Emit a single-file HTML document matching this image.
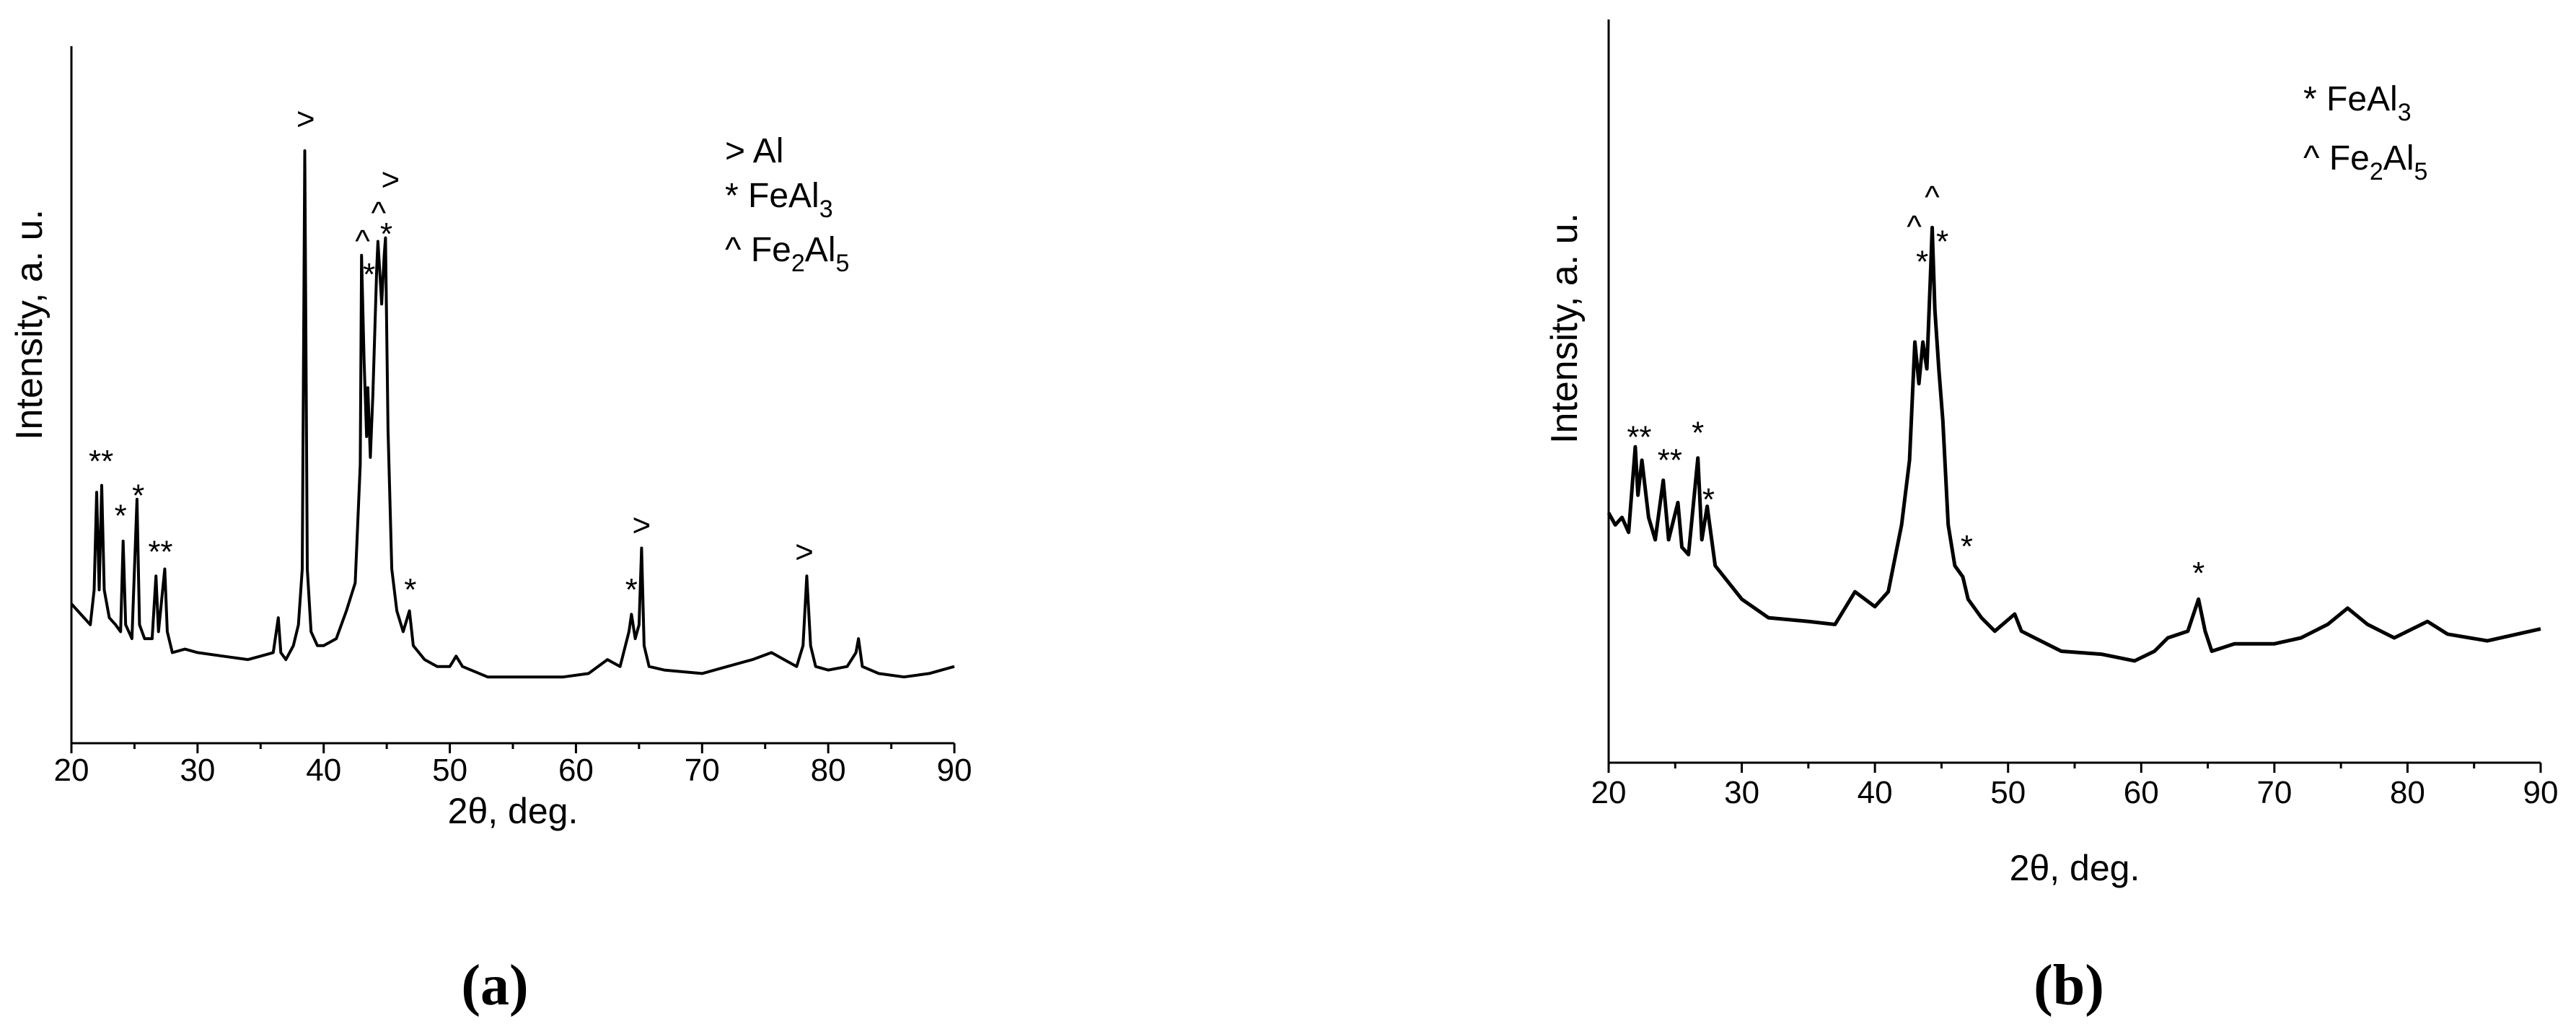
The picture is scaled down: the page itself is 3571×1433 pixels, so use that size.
<!DOCTYPE html>
<html><head><meta charset="utf-8"><style>
html,body{margin:0;padding:0;background:#fff;}
svg{display:block;}
text{font-family:"Liberation Sans",Arial,sans-serif;fill:#000;}
</style></head><body>
<svg id="chart" width="3571" height="1433" viewBox="0 0 3571 1433" xmlns="http://www.w3.org/2000/svg">
<g id="panelA"></g>
<g id="panelB"></g>
<text x="686" y="1392" font-size="80" font-weight="bold" text-anchor="middle" style="font-family:'Liberation Serif',serif">(a)</text>
<text x="2868" y="1392" font-size="80" font-weight="bold" text-anchor="middle" style="font-family:'Liberation Serif',serif">(b)</text>
</svg>
<script>
// ---- data: panel a ----
const aTheta = [20,20.5,21,21.5,21.8,22.0,22.2,22.4,22.6,23,23.5,23.9,24.1,24.3,24.8,25.2,25.4,25.8,26.4,26.7,26.9,27.4,27.6,28,29,30,32,34,35,36,36.4,36.6,37,37.6,38.0,38.3,38.5,38.7,39,39.5,40,41,41.8,42.5,42.9,43.0,43.2,43.4,43.5,43.7,43.9,44.2,44.3,44.5,44.6,44.8,44.9,45.1,45.4,45.8,46.3,46.8,47.1,48,49,50,50.5,51,53,55,57,59,61,62.5,63.5,64.2,64.4,64.7,65.0,65.2,65.4,65.8,67,70,72,74,75.5,76.5,77.5,78.0,78.3,78.6,79,80,81.5,82.2,82.4,82.7,84,86,88,90];
const aInt = [20,19,18,17,22,36,22,37,22,18,17,16,29,17,15,35,17,15,15,24,16,25,16,13,13.5,13,12.5,12,12.5,13,18,13,12,14,17,25,85,25,16,14,14,15,19,23,40,70,55,44,51,41,50,68,72,66,63,70,72.5,45,25,19,16,19,14,12,11,11,12.5,11,9.5,9.5,9.5,9.5,10,12,11,16,18.5,15,17,28,14,11,10.5,10,11,12,13,12,11,14,24,14,11,10.5,11,13,15,11,10,9.5,10,11];
const aMarkText = [">","^","*","^",">","*","**","*","*","**","*","*",">",">"];
const aMarkTheta = [38.57,43.08,43.6,44.35,45.3,44.97,22.35,23.9,25.3,27.06,46.87,64.4,65.2,78.1];
const aMarkInt = [89.6,73,68.2,77,80.9,74,41.4,33.6,36.5,28.4,23,23,31.3,27.5];
// ---- data: panel b ----
const bTheta = [20,20.5,21,21.5,22,22.2,22.5,23,23.5,24.1,24.5,25.2,25.5,26,26.7,27,27.4,28,30,32,35,37,38.5,40,41,42,42.6,43,43.3,43.6,43.9,44.2,44.3,44.5,44.8,45.1,45.5,46,46.6,47,48,49,50.5,51,52,54,57,59.5,61,62,63.5,64.3,64.8,65.3,67,70,72,74,75.5,77,79,81.5,83,86,90];
const bInt = [33.6,32,33,31,42.5,36,40.7,33,30,38,30,35,29,28,41,30,34.5,26.5,22,19.5,19,18.6,23,21,23,32,40.7,56.6,51,56.6,53,67,72,61,53,46,32,26.5,25,22,19.5,17.7,20,17.7,16.8,15,14.6,13.7,15,16.8,17.7,22,17.7,15,16,16,16.8,18.6,20.8,18.6,16.8,19,17.3,16.4,18];
const bMarkText = ["**","**","*","*","^","^","*","*","*","*"];
const bMarkTheta = [22.3,24.6,26.7,27.5,42.95,44.3,43.55,45.07,46.9,64.3];
const bMarkInt = [44.7,41.6,45.3,36.3,73,77,68.3,71,30,26.4];
const xTicks = [20,30,40,50,60,70,80,90];
const xMinor = [25,35,45,55,65,75,85];

const NS = "http://www.w3.org/2000/svg";
function mk(parent, tag, attrs, txt){
  const e = document.createElementNS(NS, tag);
  for (const k in attrs) e.setAttribute(k, attrs[k]);
  if (txt !== undefined) e.textContent = txt;
  parent.appendChild(e);
  return e;
}
function drawPanel(g, cfg, thetas, ints, mText, mTheta, mInt, legend, prefix){
  const sx = t => cfg.x0 + (t - 20) / 70 * (cfg.x1 - cfg.x0);
  const sy = v => cfg.yb - v / 100 * (cfg.yb - cfg.yt);
  const ax = mk(g, "path", {d:`M${cfg.x0},${cfg.ytop} V${cfg.yb} H${cfg.x1}`, fill:"none", stroke:"#000", "stroke-width":3});
  
  
  xTicks.forEach(t => {
    const l = mk(g, "line", {x1:sx(t), x2:sx(t), y1:cfg.yb, y2:cfg.yb+14, stroke:"#000", "stroke-width":3});
    
    
    const tx = mk(g, "text", {x:sx(t), y:cfg.yb+cfg.tickOff, "font-size":44, "text-anchor":"middle"}, String(t));
    
    
  });
  xMinor.forEach(t => {
    const l = mk(g, "line", {x1:sx(t), x2:sx(t), y1:cfg.yb, y2:cfg.yb+8, stroke:"#000", "stroke-width":3});
    
    
  });
  const xl = mk(g, "text", {x:(cfg.x0+cfg.x1)/2, y:cfg.xlabY, "font-size":50, "text-anchor":"middle"}, "2θ, deg.");
  
  
  const yl = mk(g, "text", {x:0, y:0, "font-size":52, "text-anchor":"middle", transform:`translate(${cfg.ylabX},${cfg.ylabY}) rotate(-90)`}, "Intensity, a. u.");
  
  
  let d = "";
  thetas.forEach((t,i) => { d += (i ? "L" : "M") + sx(t).toFixed(1) + "," + sy(ints[i]).toFixed(1); });
  const p = mk(g, "path", {d, fill:"none", stroke:"#000", "stroke-width":cfg.lw, "stroke-linejoin":"round"});
  
  
  mText.forEach((s,i) => {
    const dy = (s.indexOf("*") >= 0 || s === "^") ? 24 : 15;
    const m = mk(g, "text", {x:sx(mTheta[i]), y:sy(mInt[i]) + dy, "font-size":44, "text-anchor":"middle"}, s);
    
    
  });
  legend.forEach((L) => {
    const t = mk(g, "text", {x:L.x, y:L.y, "font-size":48});
    
    
    L.parts.forEach(pt => {
      mk(t, "tspan", pt.sub ? {"font-size":34, dy:14} : {dy: pt.back ? -14 : 0}, pt.t);
    });
  });
}
drawPanel(document.getElementById("panelA"),
  {x0:99, x1:1323, yb:1030, yt:64, ytop:64, tickOff:52, xlabY:1141, ylabX:58, ylabY:450, lw:4},
  aTheta, aInt, aMarkText, aMarkTheta, aMarkInt,
  [{x:1005,y:225,parts:[{t:"> Al"}]},
   {x:1005,y:287,parts:[{t:"* FeAl"},{t:"3",sub:true}]},
   {x:1005,y:362,parts:[{t:"^ Fe"},{t:"2",sub:true},{t:"Al",back:true},{t:"5",sub:true}]}], "panel-a");
drawPanel(document.getElementById("panelB"),
  {x0:2230, x1:3522, yb:1057, yt:27, ytop:27, tickOff:56, xlabY:1220, ylabX:2186, ylabY:455, lw:5},
  bTheta, bInt, bMarkText, bMarkTheta, bMarkInt,
  [{x:3193,y:153,parts:[{t:"* FeAl"},{t:"3",sub:true}]},
   {x:3193,y:235,parts:[{t:"^ Fe"},{t:"2",sub:true},{t:"Al",back:true},{t:"5",sub:true}]}], "panel-b");
</script>
</body></html>
